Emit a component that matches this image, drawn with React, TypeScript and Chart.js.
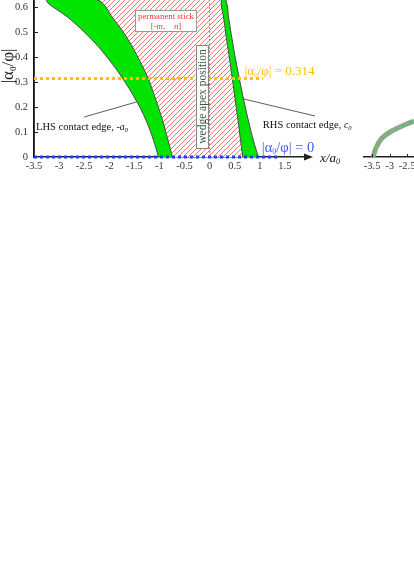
import React, { useEffect, useRef } from 'react';
import { Chart, registerables } from 'chart.js';
Chart.register(...registerables);

const SERIF = '"Liberation Serif", "DejaVu Serif", serif';

// ---------- data ----------
const xTicks = [-3.5, -3, -2.5, -2, -1.5, -1, -0.5, 0, 0.5, 1, 1.5];
const yTicks = [0, 0.1, 0.2, 0.3, 0.4, 0.5, 0.6];

// band heights |alpha0/phi|, bottom -> top
const bandY = [0, 0.068, 0.148, 0.228, 0.316, 0.388, 0.468, 0.548, 0.63];
// LHS contact edge band (green)
const lhsOuterX = [-1.02, -1.12, -1.27, -1.47, -1.74, -2.0, -2.34, -2.76, -3.24];
const lhsInnerX = [-0.74, -0.83, -0.94, -1.07, -1.23, -1.4, -1.62, -1.9, -2.26];
// RHS contact edge band (green)
const rhsInnerX = [0.66, 0.615, 0.565, 0.51, 0.45, 0.4, 0.34, 0.285, 0.23];
const rhsOuterX = [0.97, 0.87, 0.77, 0.68, 0.59, 0.52, 0.45, 0.385, 0.32];

const alphaCrit = 0.314;
const orangeSpanX = [-3.5, 1.06];
const blueSpanX = [-3.5, 1.4];
const apexX = 0;
const lhsLeaderX = [-2.5, -1.46];
const lhsLeaderY = [0.16, 0.22];
const rhsLeaderX = [0.68, 2.1];
const rhsLeaderY = [0.232, 0.164];

// neighbouring (cropped) panel
const xTicks2 = [-3.5, -3, -2.5, -2, -1.5, -1];
const curve2X = [-3.47, -3.39, -3.24, -2.99, -2.64, -2.3];
const curve2Y = [0, 0.036, 0.072, 0.1, 0.124, 0.144];

// ---------- styles ----------
const GREEN = '#00e400';
const ORANGE = '#ffc000';
const BLUE_LINE = '#2040e0';
const BLUE_TEXT = '#3a5fe8';
const RED_TEXT = '#ff3333';

const pts = (xs: number[], ys: number[]) => xs.map((x, i) => ({ x, y: ys[i] }));

function makeHatch(): any {
  const s = 5;
  const c = document.createElement('canvas');
  c.width = s;
  c.height = s;
  const g = c.getContext('2d')!;
  g.fillStyle = '#ffffff';
  g.fillRect(0, 0, s, s);
  g.strokeStyle = 'rgba(238,80,80,0.9)';
  g.lineWidth = 0.9;
  g.beginPath();
  g.moveTo(-1, s + 1); g.lineTo(s + 1, -1);
  g.moveTo(-1, 1); g.lineTo(1, -1);
  g.moveTo(s - 1, s + 1); g.lineTo(s + 1, s - 1);
  g.stroke();
  return g.createPattern(c, 'repeat');
}

type Part = { t: string; size: number; italic?: boolean; dy?: number };
function fontOf(p: Part) {
  return `${p.italic ? 'italic ' : ''}${p.size}px ${SERIF}`;
}
function rich(ctx: CanvasRenderingContext2D, parts: Part[], x: number, y: number, align: 'left' | 'center') {
  let w = 0;
  for (const p of parts) { ctx.font = fontOf(p); w += ctx.measureText(p.t).width; }
  let cx = align === 'center' ? x - w / 2 : x;
  ctx.textBaseline = 'alphabetic';
  ctx.textAlign = 'left';
  for (const p of parts) {
    ctx.font = fontOf(p);
    ctx.fillText(p.t, cx, y + (p.dy || 0));
    cx += ctx.measureText(p.t).width;
  }
}

const overlay = {
  id: 'overlay',
  afterDraw(chart: any) {
    const { ctx, chartArea: a, scales } = chart;
    const X = (v: number) => scales.x.getPixelForValue(v);
    const Y = (v: number) => scales.y.getPixelForValue(v);
    ctx.save();
    // inner y ticks
    ctx.strokeStyle = '#222';
    ctx.lineWidth = 1;
    for (const v of yTicks) {
      if (v === 0) continue;
      const py = Math.round(Y(v)) + 0.5;
      ctx.beginPath(); ctx.moveTo(a.left, py); ctx.lineTo(a.left + 4, py); ctx.stroke();
    }
    // axis arrow
    ctx.fillStyle = '#222';
    ctx.beginPath();
    ctx.moveTo(a.right - 6, a.bottom - 3.5);
    ctx.lineTo(a.right + 3, a.bottom);
    ctx.lineTo(a.right - 6, a.bottom + 3.5);
    ctx.closePath();
    ctx.fill();

    // permanent stick box
    const bx1 = X(-1.48), bx2 = X(-0.26), by1 = Y(0.588), by2 = Y(0.502);
    ctx.fillStyle = '#fff';
    ctx.fillRect(bx1, by1, bx2 - bx1, by2 - by1);
    ctx.strokeStyle = '#999';
    ctx.lineWidth = 1;
    ctx.strokeRect(Math.round(bx1) + 0.5, Math.round(by1) + 0.5, Math.round(bx2 - bx1), Math.round(by2 - by1));
    ctx.fillStyle = RED_TEXT;
    const bcx = (bx1 + bx2) / 2;
    rich(ctx, [{ t: 'permanent stick', size: 8.8 }], bcx, by1 + 9, 'center');
    rich(ctx, [
      { t: '[-', size: 8.8 }, { t: 'm', size: 8.8, italic: true },
      { t: ',    ', size: 8.8 }, { t: 'n', size: 8.8, italic: true }, { t: ']', size: 8.8 },
    ], bcx, by1 + 18.5, 'center');

    // wedge apex position box
    const ax1 = X(-0.28), ax2 = X(-0.04), ay1 = Y(0.448), ay2 = Y(0.036);
    ctx.fillStyle = '#fff';
    ctx.fillRect(ax1, ay1, ax2 - ax1, ay2 - ay1);
    ctx.strokeStyle = '#888';
    ctx.strokeRect(Math.round(ax1) + 0.5, Math.round(ay1) + 0.5, Math.round(ax2 - ax1), Math.round(ay2 - ay1));
    ctx.save();
    ctx.translate((ax1 + ax2) / 2, (ay1 + ay2) / 2);
    ctx.rotate(-Math.PI / 2);
    ctx.fillStyle = '#3b5646';
    rich(ctx, [{ t: 'wedge apex position', size: 11.5 }], 0, 4, 'center');
    ctx.restore();

    // orange label
    ctx.fillStyle = ORANGE;
    rich(ctx, [
      { t: '|α', size: 13 }, { t: '0', size: 7, dy: 2 }, { t: '/φ| = 0.314', size: 13 },
    ], X(0.7), Y(0.328), 'left');
    // blue label
    ctx.fillStyle = BLUE_TEXT;
    rich(ctx, [
      { t: '|α', size: 14.5 }, { t: '0', size: 8, dy: 2 }, { t: '/φ| = 0', size: 14.5 },
    ], X(1.04), Y(0.02), 'left');
    // contact edge labels
    ctx.fillStyle = '#111';
    rich(ctx, [
      { t: 'LHS contact edge, ', size: 10.5 }, { t: '-a', size: 10, italic: true }, { t: '0', size: 6.5, italic: true, dy: 1.5 },
    ], X(-3.46), Y(0.108), 'left');
    rich(ctx, [
      { t: 'RHS contact edge, ', size: 10.5 }, { t: 'c', size: 10, italic: true }, { t: '0', size: 6.5, italic: true, dy: 1.5 },
    ], X(1.06), Y(0.116), 'left');
    // x title
    rich(ctx, [
      { t: 'x/a', size: 13, italic: true }, { t: '0', size: 8, italic: true, dy: 1.5 },
    ], X(2.2), Y(-0.02), 'left');
    // y title
    ctx.save();
    ctx.translate(a.left - 27, Y(0.364));
    ctx.rotate(-Math.PI / 2);
    ctx.fillStyle = '#222';
    rich(ctx, [
      { t: '|α', size: 17 }, { t: '0', size: 9, dy: 2.5 }, { t: '/φ|', size: 17 },
    ], 0, 6, 'center');
    ctx.restore();
    ctx.restore();
  },
};

const overlay2 = {
  id: 'overlay2',
  afterDraw(chart: any) {
    const { ctx, chartArea: a, scales } = chart;
    ctx.save();
    ctx.strokeStyle = '#222';
    ctx.lineWidth = 1;
    for (const v of xTicks2) {
      const px = Math.round(scales.x.getPixelForValue(v)) + 0.5;
      ctx.beginPath(); ctx.moveTo(px, a.bottom); ctx.lineTo(px, a.bottom - 3); ctx.stroke();
    }
    ctx.restore();
  },
};

export default function App() {
  const ref1 = useRef<HTMLCanvasElement>(null);
  const ref2 = useRef<HTMLCanvasElement>(null);

  useEffect(() => {
    const hatch = makeHatch();
    const lhsShape = [...pts(lhsOuterX, bandY), ...pts(lhsInnerX, bandY).reverse()];
    const rhsShape = [...pts(rhsInnerX, bandY), ...pts(rhsOuterX, bandY).reverse()];
    const hatchShape = [...pts(lhsInnerX, bandY), ...pts(rhsInnerX, bandY).reverse()];
    const T = 0.4;

    const tickFont = { family: SERIF, size: 10.5 };

    const c1 = new Chart(ref1.current!, {
      type: 'line',
      data: {
        datasets: [
          { data: hatchShape, fill: 'shape', backgroundColor: hatch, borderWidth: 0, tension: T, order: 10, clip: 0 } as any,
          { data: lhsShape, fill: 'shape', backgroundColor: GREEN, borderColor: '#4a4a4a', borderWidth: 1, tension: T, order: 9, clip: 0 } as any,
          { data: rhsShape, fill: 'shape', backgroundColor: GREEN, borderColor: '#4a4a4a', borderWidth: 1, tension: T, order: 9, clip: 0 } as any,
          { data: [{ x: apexX, y: 0 }, { x: apexX, y: 0.63 }], borderColor: '#8a8a8a', borderWidth: 1, borderDash: [2, 2], order: 8 } as any,
          { data: pts(lhsLeaderX, lhsLeaderY), borderColor: '#333', borderWidth: 0.8, order: 7, clip: false } as any,
          { data: pts(rhsLeaderX, rhsLeaderY), borderColor: '#333', borderWidth: 0.8, order: 7, clip: false } as any,
          { data: pts(orangeSpanX, [alphaCrit, alphaCrit]), borderColor: ORANGE, borderWidth: 3, borderDash: [3, 3], order: 5 } as any,
          { data: pts(blueSpanX, [0, 0]), borderColor: BLUE_LINE, borderWidth: 3, borderDash: [3, 3], order: 4, clip: false } as any,
        ],
      },
      options: {
        responsive: false,
        animation: false,
        devicePixelRatio: 1,
        layout: { padding: { left: 0, right: 104, top: 0, bottom: 0 } },
        plugins: { legend: { display: false }, tooltip: { enabled: false } },
        elements: { point: { radius: 0, hoverRadius: 0 } },
        scales: {
          x: {
            type: 'linear', min: -3.5, max: 2.0,
            grid: { display: false, drawTicks: false },
            border: { display: true, color: '#222', width: 1.5 },
            ticks: { font: tickFont, color: '#333', padding: 3, maxRotation: 0, autoSkip: false, callback: (v: any) => String(v) },
            afterBuildTicks: (s: any) => { s.ticks = xTicks.map((v) => ({ value: v })); },
            afterFit: (s: any) => { s.height = 427; s.paddingLeft = 0; s.paddingRight = 0; },
          },
          y: {
            type: 'linear', min: 0, max: 0.628,
            grid: { display: false, drawTicks: false },
            border: { display: true, color: '#111', width: 1.8 },
            ticks: { font: tickFont, color: '#333', padding: 6, autoSkip: false, callback: (v: any) => String(v) },
            afterBuildTicks: (s: any) => { s.ticks = yTicks.map((v) => ({ value: v })); },
            afterFit: (s: any) => { s.width = 34; s.paddingTop = 0; s.paddingBottom = 0; },
          },
        },
      } as any,
      plugins: [overlay],
    });

    const c2 = new Chart(ref2.current!, {
      type: 'line',
      data: {
        datasets: [
          { data: pts(curve2X, curve2Y), borderColor: '#9a9a9a', borderWidth: 5, tension: 0.35, order: 2, clip: false } as any,
          { data: pts(curve2X, curve2Y), borderColor: '#33ee33', borderWidth: 2, borderDash: [4, 4], tension: 0.35, order: 1, clip: false } as any,
        ],
      },
      options: {
        responsive: false,
        animation: false,
        devicePixelRatio: 1,
        layout: { padding: { left: 0, right: 0, top: 0, bottom: 0 } },
        plugins: { legend: { display: false }, tooltip: { enabled: false } },
        elements: { point: { radius: 0, hoverRadius: 0 } },
        scales: {
          x: {
            type: 'linear', min: -3.76, max: -3.76 + 200 / 35,
            grid: { display: false, drawTicks: false },
            border: { display: true, color: '#222', width: 1.5 },
            ticks: { font: tickFont, color: '#333', padding: 3, maxRotation: 0, autoSkip: false, callback: (v: any) => String(v) },
            afterBuildTicks: (s: any) => { s.ticks = xTicks2.map((v) => ({ value: v })); },
            afterFit: (s: any) => { s.height = 427; s.paddingLeft = 0; s.paddingRight = 0; },
          },
          y: {
            type: 'linear', min: 0, max: 0.628, display: false,
            afterFit: (s: any) => { s.width = 0; s.paddingTop = 0; s.paddingBottom = 0; },
          },
        },
      } as any,
      plugins: [overlay2],
    });

    return () => { c1.destroy(); c2.destroy(); };
  }, []);

  return (
    <div style={{ position: 'absolute', left: 0, top: 0, width: 414, height: 584, overflow: 'hidden', background: '#fff' }}>
      <canvas ref={ref1} width={414} height={584} style={{ position: 'absolute', left: 0, top: 0 }} />
      <canvas ref={ref2} width={200} height={584} style={{ position: 'absolute', left: 363, top: 0 }} />
    </div>
  );
}
